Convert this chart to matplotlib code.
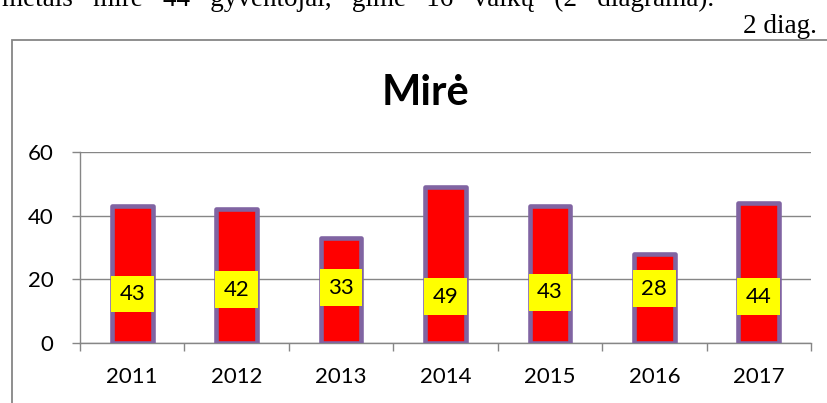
import matplotlib
matplotlib.use("Agg")
import matplotlib.pyplot as plt
from matplotlib.patches import Rectangle
import numpy as np

years = ["2011", "2012", "2013", "2014", "2015", "2016", "2017"]
died = [43, 42, 33, 49, 43, 28, 44]
label_y = [15.4, 16.7, 17.3, 14.6, 16.0, 17.0, 14.6]
yticks = [0, 20, 40, 60]
title = "Mirė"
caption = "2 diag."
top_text = "metais   mirė   44   gyventojai,   gimė   16   vaikų   (2   diagrama)."

W, H = 828, 403
fig = plt.figure(figsize=(W / 100, H / 100), dpi=100)
fig.patch.set_facecolor("white")

def fx(px):
    return px / W

def fy(py):
    return 1 - py / H

grey = "#868686"

# document frame around the chart
fig.patches.append(Rectangle((fx(12), fy(440)), fx(900), fy(40) - fy(440),
                             transform=fig.transFigure, fill=False,
                             edgecolor=grey, linewidth=1.3))

# document text
fig.text(fx(2), fy(6), top_text, ha="left", va="baseline",
         fontsize=19.5, family="Liberation Serif", color="black")
fig.text(fx(817), fy(33), caption, ha="right", va="baseline",
         fontsize=19.5, family="Liberation Serif", color="black")

# title
fig.text(fx(426), fy(105), title, ha="center", va="baseline",
         fontsize=30, fontweight="bold", family="Lato", color="black")

ax = fig.add_axes([fx(80), fy(343), fx(811) - fx(80), fy(152) - fy(343)])
x = np.arange(len(years))
ax.bar(x, died, width=0.39, color="#FF0000", edgecolor="#8064A2",
       linewidth=3.3, joinstyle="round", zorder=3)

for xi, v, ly in zip(x, died, label_y):
    ax.text(xi, ly, str(v), ha="center", va="center", fontsize=16,
            family="Lato", color="black", zorder=4,
            bbox=dict(boxstyle="square,pad=0.38", facecolor="#FFFF00",
                      edgecolor="none"))

ax.set_xlim(-0.5, len(years) - 0.5)
ax.set_ylim(0, 60)
ax.set_yticks(yticks)
ax.set_yticklabels([str(t) for t in yticks], fontsize=16, family="Lato")
ax.set_xticks(x)
ax.set_xticklabels(years, fontsize=16, family="Lato")
ax.set_xticks(np.arange(len(years) + 1) - 0.5, minor=True)

ax.tick_params(axis="x", which="major", length=0, pad=17)
ax.tick_params(axis="x", which="minor", length=6, width=1, color=grey,
               direction="out")
ax.tick_params(axis="y", which="major", length=6, width=1, color=grey,
               direction="out", pad=13)

ax.grid(axis="y", color=grey, linewidth=1, zorder=0)
ax.set_axisbelow(True)
for s in ["top", "right"]:
    ax.spines[s].set_visible(False)
for s in ["left", "bottom"]:
    ax.spines[s].set_color(grey)
    ax.spines[s].set_linewidth(1)
ax.set_facecolor("none")

fig.savefig("out.png", dpi=100, facecolor="white")
